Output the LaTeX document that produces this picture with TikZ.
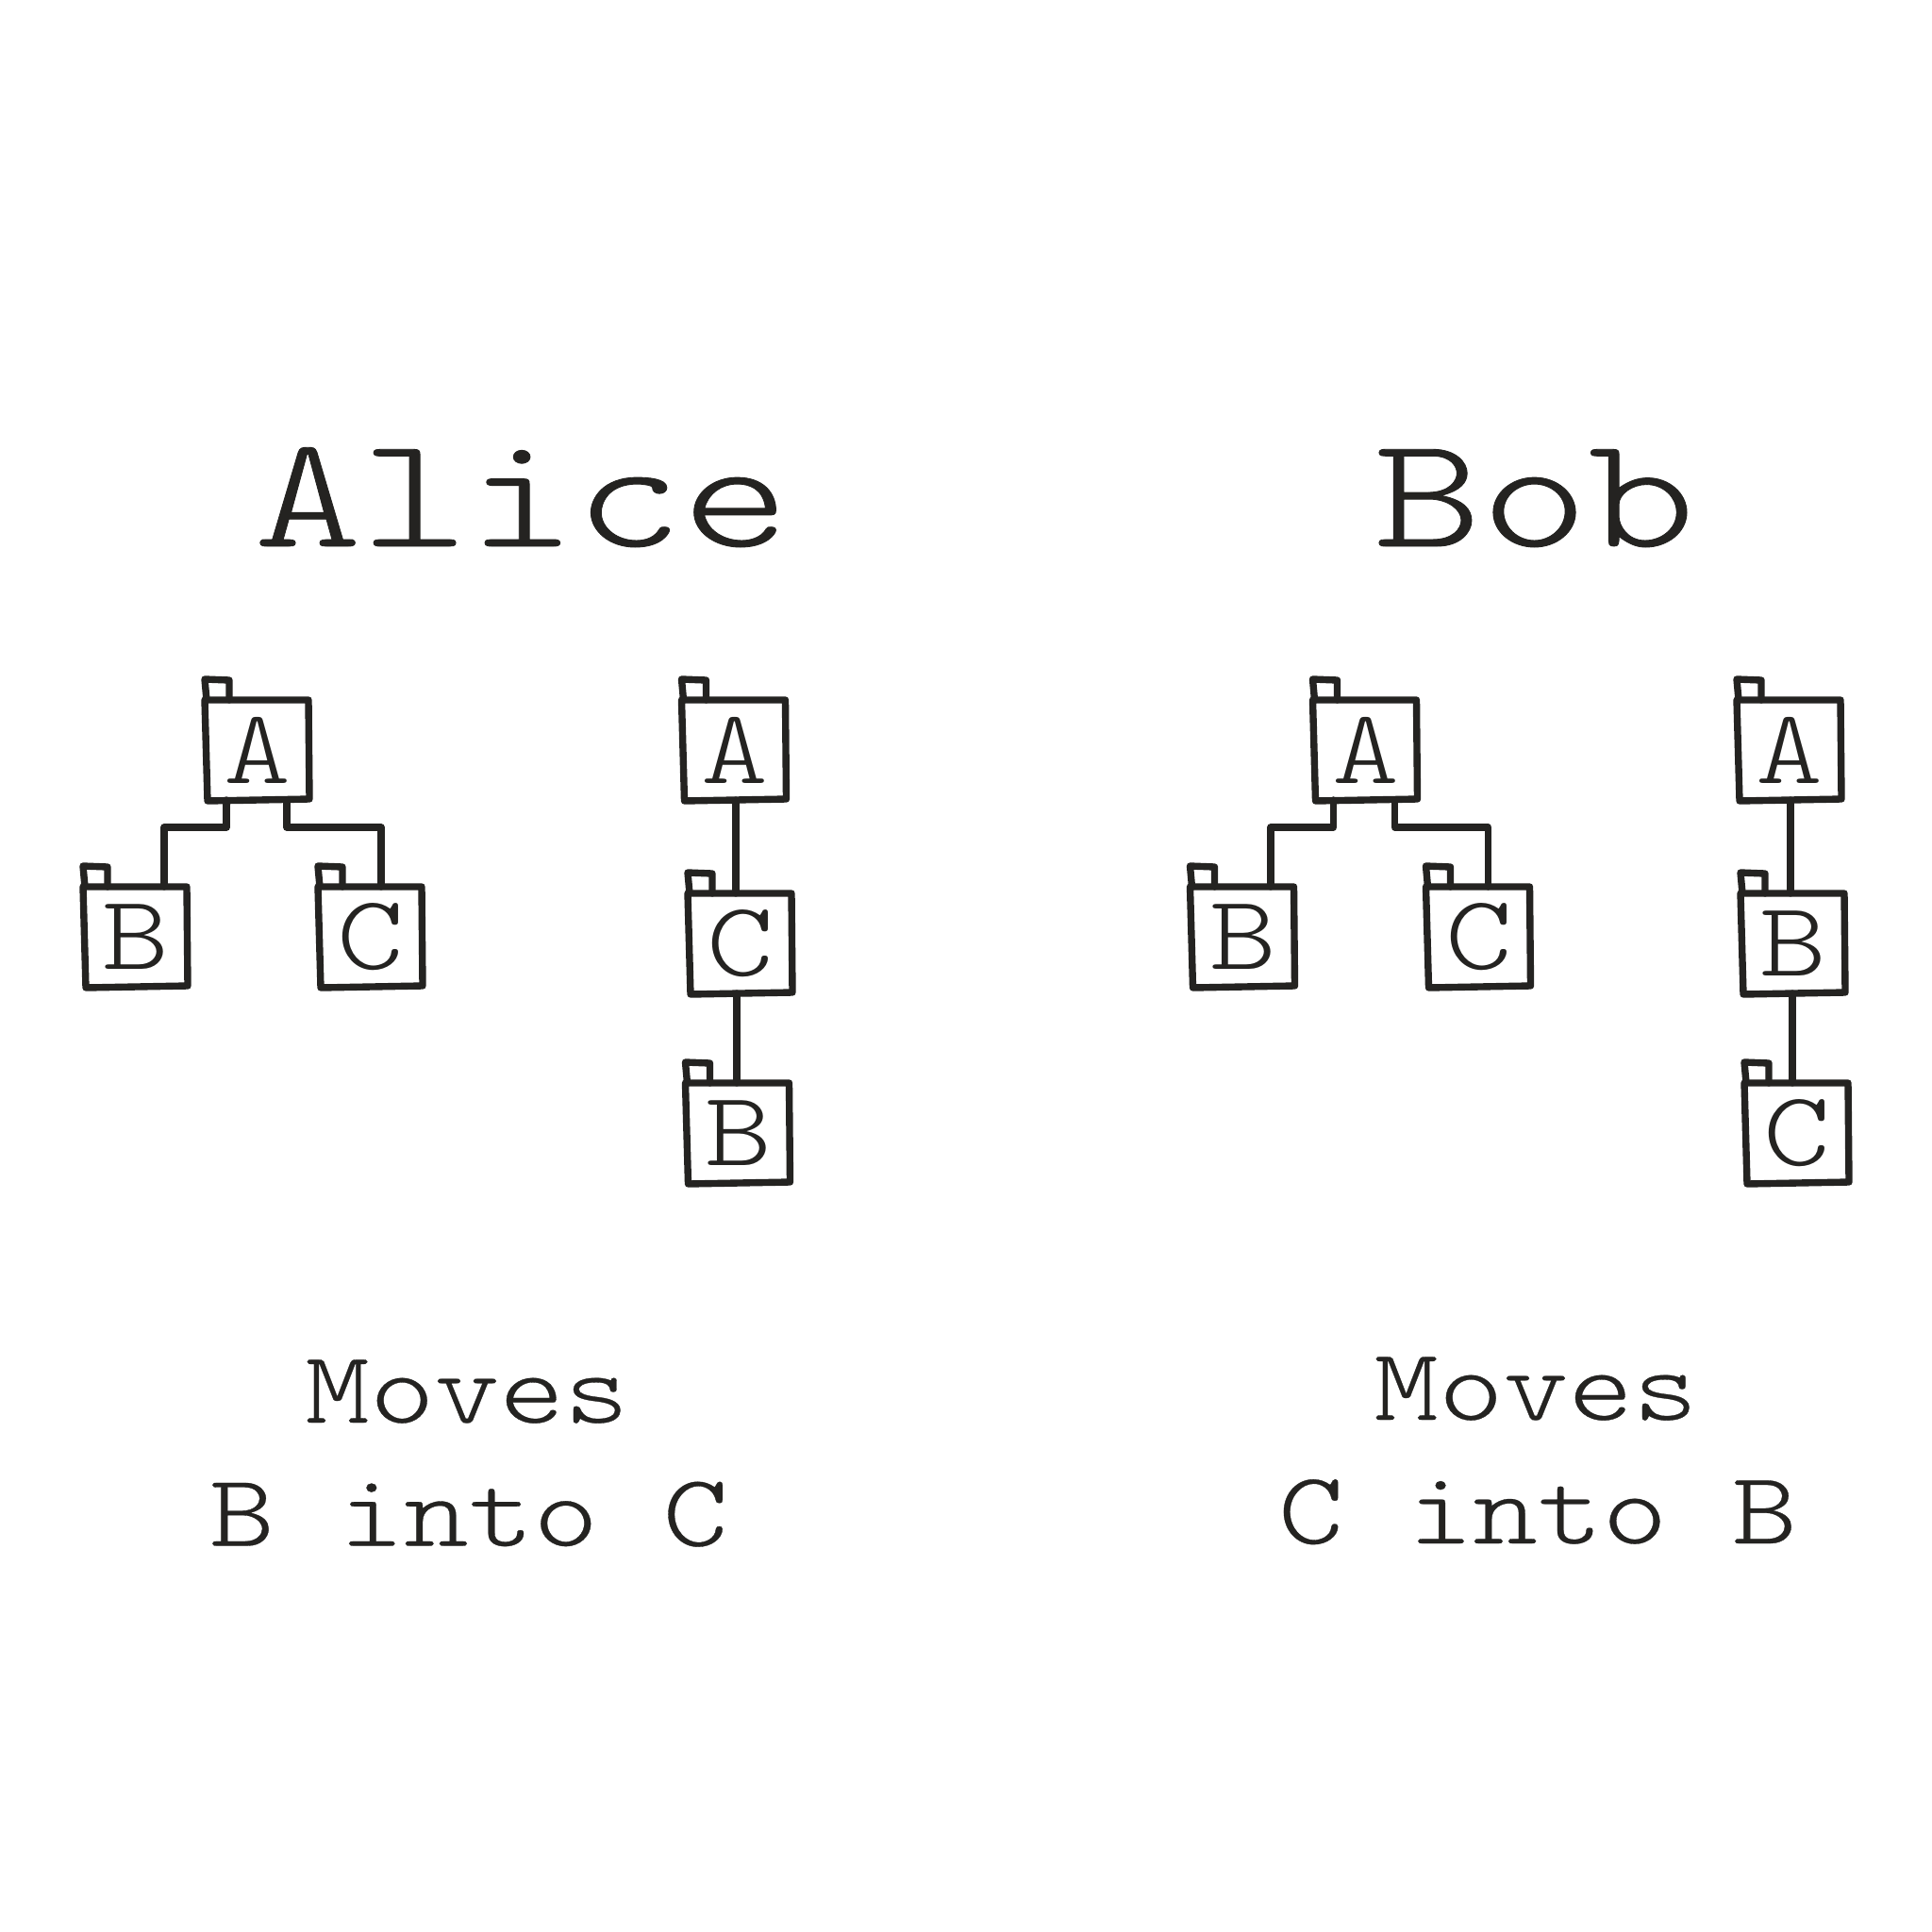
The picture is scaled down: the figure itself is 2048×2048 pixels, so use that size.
\documentclass[tikz,border=0pt]{standalone}
\usepackage{fontspec}
\newfontfamily\wideA[FakeStretch=1.285,FakeBold=0.5]{Latin Modern Mono Light}
\newfontfamily\wideB[FakeStretch=1.2,FakeBold=0.3]{Latin Modern Mono Light}
\newfontfamily\wideC[FakeStretch=1.2]{Latin Modern Mono Light}
\definecolor{ink}{HTML}{242321}
\newcommand{\folder}[4]{% name, x, y, label
  \node[boxlabel] (#1) at (#2+56,#3+53) {#4};
  \draw[boxline] (#2,#3) -- ++(110,0) -- ++(1,105) -- ++(-108,2) -- cycle;
  \draw[boxline] (#2+2,#3) -- ++(-2,-22) -- ++(26,1) -- ++(0,21);
}
\tikzset{
  x=0.01cm,y=-0.01cm,
  boxline/.style={draw=ink,line width=2.1pt,line cap=round,line join=round},
  link/.style={boxline},
  boxlabel/.style={text=ink,font=\wideC\fontsize{32}{32}\selectfont,inner sep=0pt,outer sep=0pt,anchor=center,minimum width=1.11cm,minimum height=1.06cm},
  title/.style={text=ink,font=\wideA\fontsize{47.8}{47.8}\selectfont,inner sep=0pt,anchor=base},
  caption/.style={text=ink,font=\wideB\fontsize{31}{31}\selectfont,inner sep=0pt,anchor=base},
}
\begin{document}
\begin{tikzpicture}
\useasboundingbox (0,0) rectangle (2048,2048);
\fill[white] (0,0) rectangle (2048,2048);
\node[title] (alice) at (553,579) {Alice};
\node[title] (bob) at (1626.6,579) {Bob};
\node[caption] (m1) at (495,1508) {Moves};
\node[caption] (t1) at (496.8,1638.5) {B into C};
\node[caption] (m2) at (1628,1505) {Moves};
\node[caption] (t2) at (1630,1636) {C into B};
% Alice tree
\folder{a1}{217}{742}{A}
\folder{b1}{88}{940}{B}
\folder{c1}{337}{940}{C}
\draw[link] (240,0 |- a1.south) -- (240,877) -- (174,877) -- (174,0 |- b1.north);
\draw[link] (304,0 |- a1.south) -- (304,877) -- (404,877) -- (404,0 |- c1.north);
\folder{a2}{722.5}{742}{A}
\folder{c2}{729}{947}{C}
\folder{b2}{726.5}{1148}{B}
\draw[link] (780,0 |- a2.south) -- (780,0 |- c2.north);
\draw[link] (781,0 |- c2.south) -- (781,0 |- b2.north);
% Bob tree
\folder{a3}{1391.5}{742}{A}
\folder{b3}{1261.5}{940}{B}
\folder{c3}{1511.5}{940}{C}
\draw[link] (1413.5,0 |- a3.south) -- (1413.5,877) -- (1347,877) -- (1347,0 |- b3.north);
\draw[link] (1478.5,0 |- a3.south) -- (1478.5,877) -- (1577.5,877) -- (1577.5,0 |- c3.north);
\folder{a4}{1841}{742}{A}
\folder{b4}{1845}{947}{B}
\folder{c4}{1849}{1148}{C}
\draw[link] (1898,0 |- a4.south) -- (1898,0 |- b4.north);
\draw[link] (1900,0 |- b4.south) -- (1900,0 |- c4.north);
\end{tikzpicture}
\end{document}
